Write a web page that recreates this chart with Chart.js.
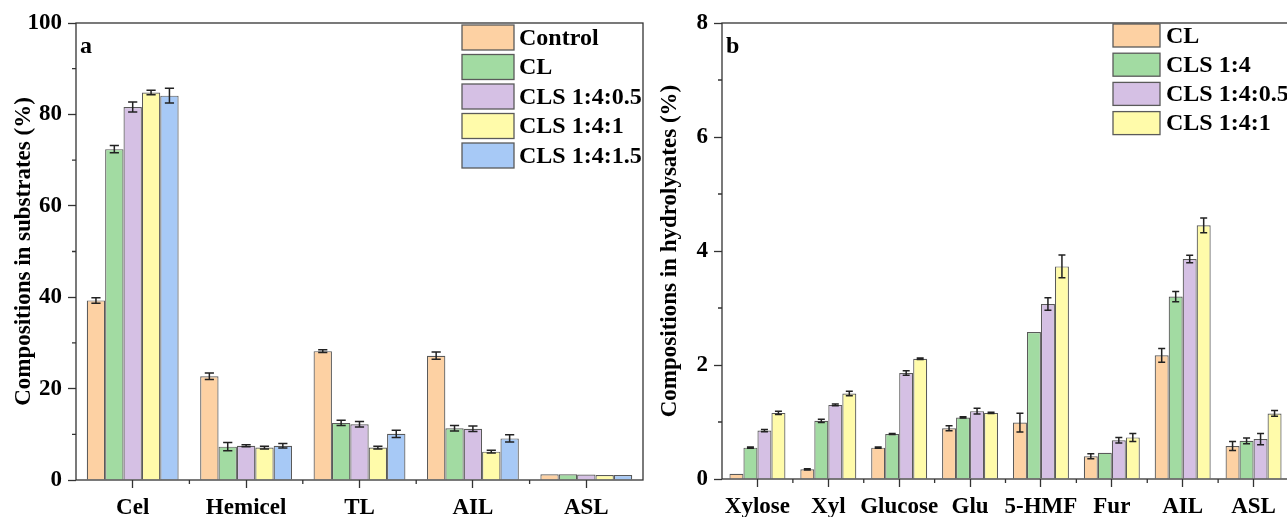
<!DOCTYPE html>
<html>
<head>
<meta charset="utf-8">
<script src="https://cdn.jsdelivr.net/npm/chart.js@4.4.1/dist/chart.umd.min.js"></script>
<style>
  html, body { margin: 0; padding: 0; background: #fff; overflow: hidden; }
  body { width: 1287px; height: 517px; position: relative; }
  .panel { position: absolute; top: 0; }
  #panelA { left: 0; }
  #panelB { left: 640px; }
</style>
</head>
<body>
<div class="panel" id="panelA"><canvas id="substrateChart" width="650" height="517"></canvas></div>
<div class="panel" id="panelB"><canvas id="hydrolysateChart" width="660" height="517"></canvas></div>
<script>
// (a) composition of the pretreated substrates, %
const substrateLabels = ['Cel', 'Hemicel', 'TL', 'AIL', 'ASL'];
const control = [39.3, 22.7, 28.2, 27.2, 1.25];
const cl = [72.4, 7.3, 12.5, 11.3, 1.25];
const cls05 = [81.6, 7.5, 12.2, 11.2, 1.2];
const cls1 = [84.8, 7.1, 7.1, 6.2, 1.1];
const cls15 = [84.1, 7.5, 10.1, 9.1, 1.1];
const controlErr = [0.6, 0.7, 0.3, 0.8, 0];
const clErr = [0.8, 0.9, 0.6, 0.6, 0];
const cls05Err = [1.1, 0.2, 0.6, 0.6, 0];
const cls1Err = [0.5, 0.3, 0.3, 0.3, 0];
const cls15Err = [1.6, 0.5, 0.8, 0.8, 0];
const substrateTicks = [0, 20, 40, 60, 80, 100];

// (b) composition of the hydrolysates, %
const hydrolysateLabels = ['Xylose', 'Xyl', 'Glucose', 'Glu', '5-HMF', 'Fur', 'AIL', 'ASL'];
const hCl = [0.09, 0.17, 0.55, 0.89, 0.99, 0.40, 2.17, 0.58];
const hCls14 = [0.55, 1.02, 0.79, 1.08, 2.58, 0.46, 3.20, 0.67];
const hCls05 = [0.85, 1.30, 1.86, 1.19, 3.07, 0.68, 3.86, 0.70];
const hCls1 = [1.16, 1.50, 2.11, 1.16, 3.73, 0.73, 4.45, 1.15];
const hClErr = [0, 0.01, 0.01, 0.045, 0.165, 0.045, 0.12, 0.08];
const hCls14Err = [0.01, 0.03, 0.01, 0.01, 0, 0, 0.09, 0.05];
const hCls05Err = [0.02, 0.015, 0.04, 0.05, 0.11, 0.05, 0.065, 0.1];
const hCls1Err = [0.03, 0.04, 0.015, 0.01, 0.2, 0.07, 0.13, 0.05];
const hydrolysateTicks = [0, 2, 4, 6, 8];

const FONT = "'Liberation Serif', 'Times New Roman', serif";
const COLORS = {
    orange: '#FDD1A3',
    green: '#A2DBA2',
    purple: '#D5C0E4',
    yellow: '#FFFBAA',
    blue: '#A7C9F6',
    edge: '#5a5a5a',
    axis: '#333333'
};

Chart.defaults.font.family = FONT;
Chart.defaults.font.weight = 'bold';
Chart.defaults.color = '#000';

// Error bars drawn on top of each bar from the dataset's `errors` array
const errorBarPlugin = {
    id: 'errorBars',
    afterDatasetsDraw(chart, args, opts) {
        const ctx = chart.ctx;
        const yScale = chart.scales.y;
        ctx.save();
        ctx.strokeStyle = opts.color;
        ctx.lineWidth = opts.lineWidth;
        chart.data.datasets.forEach((ds, i) => {
            const meta = chart.getDatasetMeta(i);
            meta.data.forEach((bar, j) => {
                const err = ds.errors[j];
                if (!err) return;
                const v = ds.data[j];
                const top = yScale.getPixelForValue(v + err);
                const bot = yScale.getPixelForValue(v - err);
                const half = bar.width * opts.capRatio / 2;
                ctx.beginPath();
                ctx.moveTo(bar.x, top);
                ctx.lineTo(bar.x, bot);
                ctx.moveTo(bar.x - half, top);
                ctx.lineTo(bar.x + half, top);
                ctx.moveTo(bar.x - half, bot);
                ctx.lineTo(bar.x + half, bot);
                ctx.stroke();
            });
        });
        ctx.restore();
    }
};

// Closed frame round the plot, minor ticks and the panel letter
const framePlugin = {
    id: 'frame',
    afterDraw(chart, args, opts) {
        const ctx = chart.ctx;
        const { left, top, right, bottom } = chart.chartArea;
        const xs = chart.scales.x;
        const ys = chart.scales.y;
        ctx.save();
        ctx.strokeStyle = opts.color;
        ctx.lineWidth = opts.lineWidth;
        ctx.strokeRect(left, top, right - left, bottom - top);

        ctx.beginPath();
        // minor y ticks halfway between labelled ones
        for (let i = 1; i < ys.ticks.length; i++) {
            const py = ys.getPixelForValue((ys.ticks[i - 1].value + ys.ticks[i].value) / 2);
            ctx.moveTo(left, py);
            ctx.lineTo(left - opts.minorLength, py);
        }
        // minor x ticks on category boundaries
        for (let i = 1; i < xs.ticks.length; i++) {
            const px = (xs.getPixelForValue(i - 1) + xs.getPixelForValue(i)) / 2;
            ctx.moveTo(px, bottom);
            ctx.lineTo(px, bottom + opts.minorLength);
        }
        ctx.stroke();

        ctx.fillStyle = '#000';
        ctx.font = `bold ${opts.letterSize}px ${FONT}`;
        ctx.textBaseline = 'alphabetic';
        ctx.fillText(opts.letter, left + 4, top + 30);
        ctx.restore();
    }
};

// Boxed legend inside the plot area
const boxLegendPlugin = {
    id: 'boxLegend',
    afterDraw(chart, args, opts) {
        const ctx = chart.ctx;
        ctx.save();
        ctx.font = `bold ${opts.fontSize}px ${FONT}`;
        ctx.textBaseline = 'middle';
        chart.data.datasets.forEach((ds, i) => {
            const top = opts.top + i * opts.step;
            ctx.fillStyle = ds.backgroundColor;
            ctx.fillRect(opts.left, top, opts.boxWidth, opts.boxHeight);
            ctx.strokeStyle = ds.borderColor;
            ctx.lineWidth = 1.3;
            ctx.strokeRect(opts.left, top, opts.boxWidth, opts.boxHeight);
            ctx.fillStyle = '#000';
            ctx.fillText(ds.label, opts.left + opts.boxWidth + opts.gap, top + opts.boxHeight / 2 + 1);
        });
        ctx.restore();
    }
};

function barSet(label, data, errors, color, pct) {
    return {
        label: label,
        data: data,
        errors: errors,
        backgroundColor: color,
        borderColor: COLORS.edge,
        borderWidth: 1.2,
        categoryPercentage: pct,
        barPercentage: 1
    };
}

function axisOptions(cfg) {
    const ticks = cfg.ticks;
    return {
        x: {
            type: 'category',
            offset: true,
            grid: {
                offset: false,
                drawOnChartArea: false,
                tickLength: 8,
                tickWidth: 1.3,
                tickColor: COLORS.axis
            },
            border: { display: false },
            ticks: {
                font: { size: 23, weight: 'bold' },
                color: '#000',
                padding: 6,
                maxRotation: 0,
                autoSkip: false
            },
            afterFit(scale) { scale.height = cfg.xHeight; }
        },
        y: {
            min: ticks[0],
            max: ticks[ticks.length - 1],
            grid: {
                drawOnChartArea: false,
                tickLength: 8,
                tickWidth: 1.3,
                tickColor: COLORS.axis
            },
            border: { display: false },
            ticks: {
                stepSize: ticks[1] - ticks[0],
                font: { size: 23, weight: 'bold' },
                color: '#000',
                padding: 6
            },
            title: {
                display: true,
                text: cfg.title,
                font: { size: 23, weight: 'bold' },
                color: '#000',
                padding: { top: cfg.titlePad, bottom: 0 }
            },
            afterFit(scale) { scale.width = cfg.yWidth; }
        }
    };
}

function initSubstrateChart() {
    const ctx = document.getElementById('substrateChart');
    const pct = 0.81;
    return new Chart(ctx.getContext('2d'), {
        type: 'bar',
        data: {
            labels: substrateLabels,
            datasets: [
                barSet('Control', control, controlErr, COLORS.orange, pct),
                barSet('CL', cl, clErr, COLORS.green, pct),
                barSet('CLS 1:4:0.5', cls05, cls05Err, COLORS.purple, pct),
                barSet('CLS 1:4:1', cls1, cls1Err, COLORS.yellow, pct),
                barSet('CLS 1:4:1.5', cls15, cls15Err, COLORS.blue, pct)
            ]
        },
        options: {
            responsive: false,
            animation: false,
            devicePixelRatio: 1,
            layout: { padding: { left: 0, top: 23, right: 7, bottom: 0 } },
            scales: axisOptions({
                ticks: substrateTicks,
                title: 'Compositions in substrates (%)',
                titlePad: 10,
                yWidth: 76,
                xHeight: 37
            }),
            plugins: {
                legend: { display: false },
                tooltip: { enabled: false },
                errorBars: { color: '#222', lineWidth: 1.5, capRatio: 0.5 },
                frame: { color: COLORS.axis, lineWidth: 1.3, minorLength: 4, letter: 'a', letterSize: 24 },
                boxLegend: { left: 462, top: 25, boxWidth: 52, boxHeight: 25, step: 29.5, gap: 5, fontSize: 24 }
            }
        },
        plugins: [errorBarPlugin, framePlugin, boxLegendPlugin]
    });
}

function initHydrolysateChart() {
    const ctx = document.getElementById('hydrolysateChart');
    const pct = 0.79;
    return new Chart(ctx.getContext('2d'), {
        type: 'bar',
        data: {
            labels: hydrolysateLabels,
            datasets: [
                barSet('CL', hCl, hClErr, COLORS.orange, pct),
                barSet('CLS 1:4', hCls14, hCls14Err, COLORS.green, pct),
                barSet('CLS 1:4:0.5', hCls05, hCls05Err, COLORS.purple, pct),
                barSet('CLS 1:4:1', hCls1, hCls1Err, COLORS.yellow, pct)
            ]
        },
        options: {
            responsive: false,
            animation: false,
            devicePixelRatio: 1,
            layout: { padding: { left: 0, top: 23, right: 11, bottom: 0 } },
            scales: axisOptions({
                ticks: hydrolysateTicks,
                title: 'Compositions in hydrolysates (%)',
                titlePad: 16,
                yWidth: 82,
                xHeight: 38
            }),
            plugins: {
                legend: { display: false },
                tooltip: { enabled: false },
                errorBars: { color: '#222', lineWidth: 1.5, capRatio: 0.5 },
                frame: { color: COLORS.axis, lineWidth: 1.3, minorLength: 4, letter: 'b', letterSize: 24 },
                boxLegend: { left: 473, top: 24, boxWidth: 47, boxHeight: 23, step: 29.2, gap: 6, fontSize: 24 }
            }
        },
        plugins: [errorBarPlugin, framePlugin, boxLegendPlugin]
    });
}

initSubstrateChart();
initHydrolysateChart();
</script>
</body>
</html>
